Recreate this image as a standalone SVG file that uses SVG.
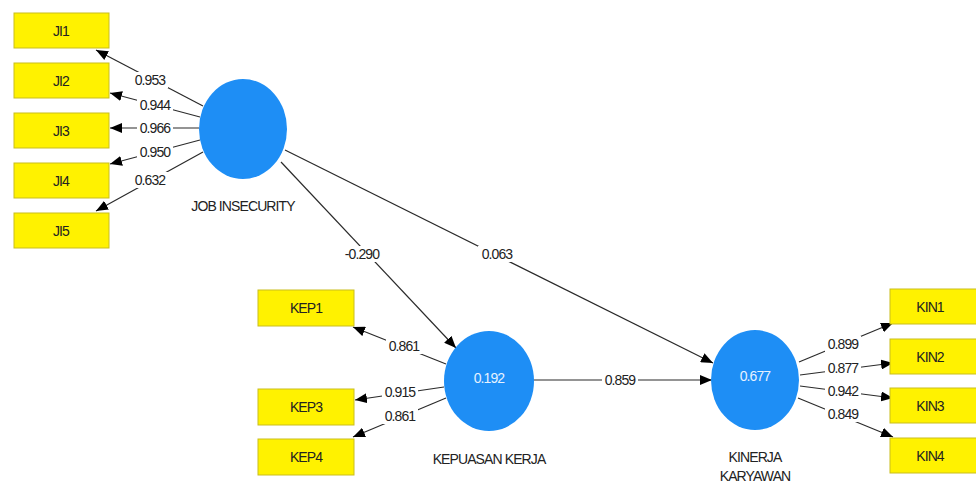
<svg xmlns="http://www.w3.org/2000/svg" width="976" height="484" viewBox="0 0 976 484">
<style>
.box{fill:#FFF200;stroke:#C9BE1E;stroke-width:1}
.bt{font-family:"Liberation Sans",Arial,sans-serif;font-size:14px;fill:#222;text-anchor:middle;dominant-baseline:central;letter-spacing:-0.9px}
.lv{fill:#1E8EF5}
.ct{font-family:"Liberation Sans",Arial,sans-serif;font-size:14px;fill:#E6F2FF;text-anchor:middle;dominant-baseline:central;letter-spacing:-0.9px}
.nl{font-family:"Liberation Sans",Arial,sans-serif;font-size:14px;fill:#222;text-anchor:middle;dominant-baseline:central;letter-spacing:-0.9px}
.ln{stroke:#2a2a2a;stroke-width:1.2;fill:none;marker-end:url(#ah)}
.lb{fill:#fff}
.lt{font-family:"Liberation Sans",Arial,sans-serif;font-size:14px;fill:#222;text-anchor:middle;dominant-baseline:central;letter-spacing:-0.9px}
</style>
<defs>
<marker id="ah" viewBox="0 0 12 10" refX="12" refY="5" markerWidth="12" markerHeight="10" markerUnits="userSpaceOnUse" orient="auto">
<path d="M0,0 L12,5 L0,10 Z" fill="#000"/>
</marker>
</defs>
<rect width="976" height="484" fill="#fff"/>

<g id="connectors">
<line class="ln" x1="203" y1="106" x2="96" y2="50"/>
<line class="ln" x1="200" y1="117" x2="110" y2="93"/>
<line class="ln" x1="199" y1="128" x2="110" y2="128"/>
<line class="ln" x1="200" y1="140" x2="110" y2="164"/>
<line class="ln" x1="203" y1="152" x2="96" y2="211"/>
<line class="ln" x1="446" y1="364" x2="353" y2="327"/>
<line class="ln" x1="444" y1="387" x2="355" y2="400"/>
<line class="ln" x1="446" y1="398" x2="353" y2="437"/>
<line class="ln" x1="799" y1="362" x2="893" y2="323"/>
<line class="ln" x1="800" y1="375" x2="893" y2="363"/>
<line class="ln" x1="800" y1="386" x2="893" y2="398"/>
<line class="ln" x1="798" y1="398" x2="893" y2="437"/>
<line class="ln" x1="281" y1="162" x2="456" y2="348"/>
<line class="ln" x1="285" y1="150" x2="713" y2="363"/>
<line class="ln" x1="533" y1="380" x2="712" y2="380"/>
<g id="labels">
<rect class="lb" x="132" y="72" width="36" height="16"/><text class="lt" x="150" y="80">0.953</text>
<rect class="lb" x="137" y="97" width="36" height="16"/><text class="lt" x="155" y="105">0.944</text>
<rect class="lb" x="137" y="120" width="36" height="16"/><text class="lt" x="155" y="128">0.966</text>
<rect class="lb" x="137" y="144" width="36" height="16"/><text class="lt" x="155" y="152">0.950</text>
<rect class="lb" x="132" y="172" width="36" height="16"/><text class="lt" x="150" y="180">0.632</text>
<rect class="lb" x="386" y="338" width="36" height="16"/><text class="lt" x="404" y="346">0.861</text>
<rect class="lb" x="382" y="384" width="36" height="16"/><text class="lt" x="400" y="392">0.915</text>
<rect class="lb" x="382" y="408" width="36" height="16"/><text class="lt" x="400" y="416">0.861</text>
<rect class="lb" x="825" y="336" width="36" height="16"/><text class="lt" x="843" y="344">0.899</text>
<rect class="lb" x="825" y="360" width="36" height="16"/><text class="lt" x="843" y="368">0.877</text>
<rect class="lb" x="825" y="383" width="36" height="16"/><text class="lt" x="843" y="391">0.942</text>
<rect class="lb" x="825" y="406" width="36" height="16"/><text class="lt" x="843" y="414">0.849</text>
<rect class="lb" x="340" y="246" width="44" height="16"/><text class="lt" x="362" y="254">-0.290</text>
<rect class="lb" x="478" y="246" width="38" height="16"/><text class="lt" x="497" y="254">0.063</text>
<rect class="lb" x="602" y="372" width="36" height="16"/><text class="lt" x="620" y="380">0.859</text>
</g>
</g>

<g id="JI1"><rect class="box" x="14" y="13" width="95" height="35"/><text class="bt" x="61" y="31">JI1</text></g>
<g id="JI2"><rect class="box" x="14" y="63" width="95" height="35"/><text class="bt" x="61" y="81">JI2</text></g>
<g id="JI3"><rect class="box" x="14" y="113" width="95" height="35"/><text class="bt" x="61" y="131">JI3</text></g>
<g id="JI4"><rect class="box" x="14" y="163" width="95" height="35"/><text class="bt" x="61" y="181">JI4</text></g>
<g id="JI5"><rect class="box" x="14" y="213" width="95" height="35"/><text class="bt" x="61" y="231">JI5</text></g>

<g id="KEP1"><rect class="box" x="258" y="290" width="96" height="36"/><text class="bt" x="306" y="308">KEP1</text></g>
<g id="KEP3"><rect class="box" x="258" y="389" width="96" height="36"/><text class="bt" x="306" y="407">KEP3</text></g>
<g id="KEP4"><rect class="box" x="258" y="439" width="96" height="36"/><text class="bt" x="306" y="457">KEP4</text></g>

<g id="KIN1"><rect class="box" x="890" y="289" width="90" height="35"/><text class="bt" x="930" y="307">KIN1</text></g>
<g id="KIN2"><rect class="box" x="890" y="339" width="90" height="35"/><text class="bt" x="930" y="357">KIN2</text></g>
<g id="KIN3"><rect class="box" x="890" y="388" width="90" height="35"/><text class="bt" x="930" y="406">KIN3</text></g>
<g id="KIN4"><rect class="box" x="890" y="438" width="90" height="35"/><text class="bt" x="930" y="456">KIN4</text></g>

<g id="JOB_INSECURITY"><ellipse class="lv" cx="243" cy="129" rx="44" ry="50"/><text class="nl" x="243" y="206">JOB INSECURITY</text></g>
<g id="KEPUASAN_KERJA"><ellipse class="lv" cx="489" cy="381" rx="45" ry="50"/><text class="ct" x="489" y="378">0.192</text><text class="nl" x="489" y="459">KEPUASAN KERJA</text></g>
<g id="KINERJA_KARYAWAN"><ellipse class="lv" cx="755" cy="380" rx="44" ry="50"/><text class="ct" x="755" y="376">0.677</text><text class="nl" x="755" y="457">KINERJA</text><text class="nl" x="755" y="476">KARYAWAN</text></g>
</svg>
